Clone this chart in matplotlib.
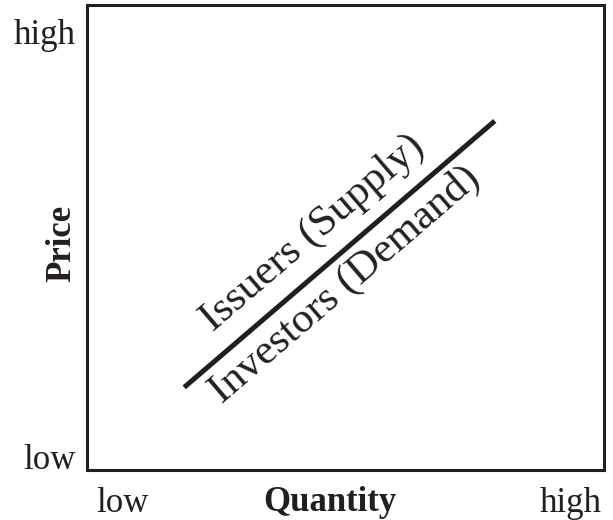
import matplotlib.pyplot as plt
import numpy as np

plt.rcParams['font.family'] = ['Liberation Serif', 'DejaVu Serif']

# end points of the supply/demand line (axes run 0..1)
quantity = [0.188, 0.789]
price = [0.178, 0.751]

x_ticks = [0.068, 0.936]
x_tick_labels = ['low', 'high']
y_ticks = [0.03, 0.943]
y_tick_labels = ['low', 'high']

upper_label = 'Issuers (Supply)'
lower_label = 'Investors (Demand)'

ink = '#231f20'

fig = plt.figure(figsize=(6.13, 5.2), dpi=100)
ax = fig.add_axes([0.142, 0.096, 0.843, 0.894])

ax.plot(quantity, price, color=ink, lw=3.6, solid_capstyle='butt')
ax.set_xlim(0, 1)
ax.set_ylim(0, 1)

for s in ax.spines.values():
    s.set_linewidth(2.2)
    s.set_color(ink)

ax.set_xticks(x_ticks, x_tick_labels, fontsize=25)
ax.set_yticks(y_ticks, y_tick_labels, fontsize=25)
ax.tick_params(length=0, colors=ink)
ax.tick_params(axis='x', pad=12)
ax.tick_params(axis='y', pad=8)
ax.set_xlabel('Quantity', fontsize=25, fontweight='bold', color=ink)
ax.set_ylabel('Price', fontsize=25, fontweight='bold', color=ink)
ax.xaxis.set_label_coords(0.47, -0.034)
ax.yaxis.set_label_coords(-0.016, 0.488)

# angle of the line on screen
fig.canvas.draw()
p0 = ax.transData.transform((quantity[0], price[0]))
p1 = ax.transData.transform((quantity[1], price[1]))
ang = np.degrees(np.arctan2(p1[1] - p0[1], p1[0] - p0[0]))

ax.text(0.462, 0.478, upper_label, fontsize=31, rotation=ang,
        rotation_mode='anchor', ha='center', va='bottom', color=ink)
ax.text(0.474, 0.431, lower_label, fontsize=31, rotation=ang,
        rotation_mode='anchor', ha='center', va='top', color=ink)

fig.savefig('out.png', dpi=100)
